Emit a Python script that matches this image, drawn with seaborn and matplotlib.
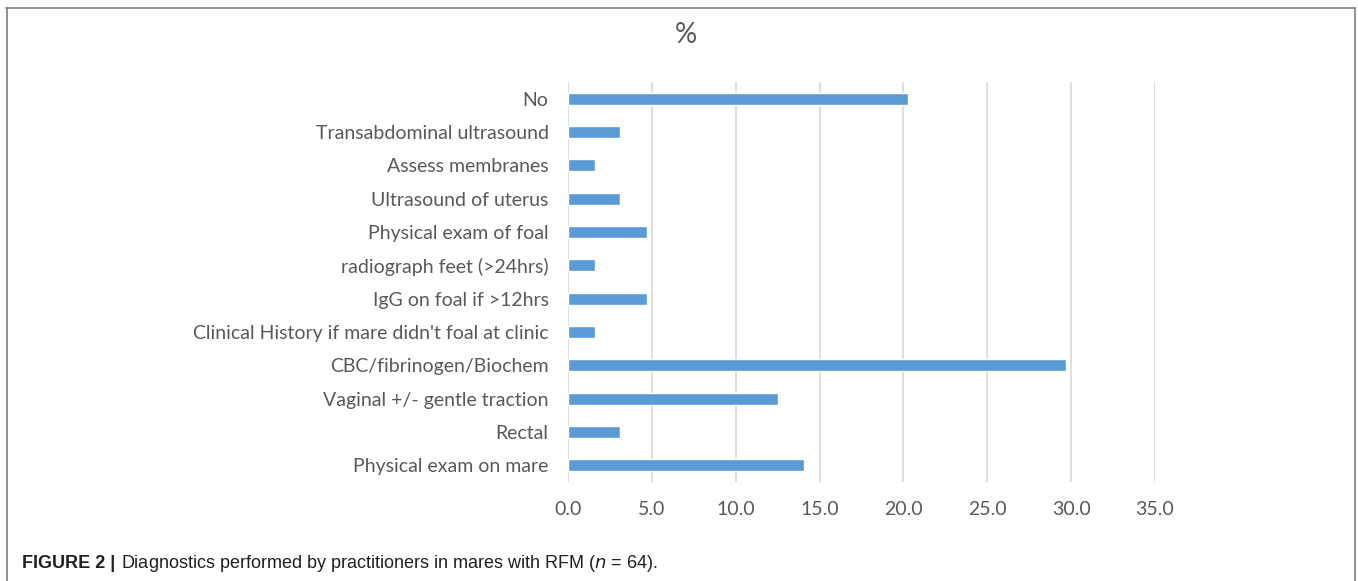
import pandas as pd
import seaborn as sns
import matplotlib.pyplot as plt
from matplotlib.lines import Line2D

# dados (percentual, n = 64)
categorias = [
    "No",
    "Transabdominal ultrasound",
    "Assess membranes",
    "Ultrasound of uterus",
    "Physical exam of foal",
    "radiograph feet (>24hrs)",
    "IgG on foal if >12hrs",
    "Clinical History if mare didn't foal at clinic",
    "CBC/fibrinogen/Biochem",
    "Vaginal +/- gentle traction",
    "Rectal",
    "Physical exam on mare",
]
percentuais = [20.3, 3.1, 1.6, 3.1, 4.7, 1.6, 4.7, 1.6, 29.7, 12.5, 3.1, 14.1]
ticks_x = [0, 5, 10, 15, 20, 25, 30, 35]

df = pd.DataFrame({"diag": categorias, "pct": percentuais})

sns.set_style("white")
plt.rcParams["font.family"] = ["Lato", "DejaVu Sans"]

cor_texto = "#595959"

fig = plt.figure(figsize=(13.58, 5.81), dpi=100)
ax = fig.add_axes([568 / 1358, 1 - 482 / 581, (1155 - 568) / 1358, 400 / 581])

sns.barplot(data=df, x="pct", y="diag", color="#5B9BD5", saturation=1,
            width=0.36, orient="h", ax=ax)

ax.set_xlim(0, 35)
ax.set_ylim(len(categorias) - 0.5, -0.5)
ax.set_xticks(ticks_x)
ax.set_xticklabels([f"{t:.1f}" for t in ticks_x], fontsize=14, color=cor_texto)
ax.tick_params(axis="y", labelsize=14, labelcolor=cor_texto, length=0, pad=14)
ax.tick_params(axis="x", length=0, pad=14)
ax.grid(axis="x", color="#D9D9D9", linewidth=1.2)
ax.set_axisbelow(True)
for s in ax.spines.values():
    s.set_visible(False)
ax.set_xlabel("")
ax.set_ylabel("")

# titulo "%"
fig.text(686 / 1358, 1 - 35 / 581, "%", fontsize=20, color=cor_texto,
         ha="center", va="center")

# moldura (sem linha inferior)
cor_borda = "#7F7F7F"
fig.add_artist(Line2D([6 / 1358, 1355 / 1358], [1 - 8 / 581, 1 - 8 / 581],
                      color=cor_borda, linewidth=1.2))
fig.add_artist(Line2D([7 / 1358, 7 / 1358], [0, 1 - 8 / 581],
                      color=cor_borda, linewidth=1.2))
fig.add_artist(Line2D([1355 / 1358, 1355 / 1358], [0, 1 - 8 / 581],
                      color=cor_borda, linewidth=1.2))

# legenda da figura
t1 = fig.text(22 / 1358, 1 - 563 / 581, "FIGURE 2 |", fontsize=13, fontweight="bold",
              family="Liberation Sans", color="#231F20", va="center")
fig.canvas.draw()
bb = t1.get_window_extent()
fig.text((bb.x1 + 6) / 1358, 1 - 563 / 581,
         "Diagnostics performed by practitioners in mares with RFM ($n$ = 64).",
         fontsize=13, family="Liberation Sans", color="#231F20", va="center")

fig.savefig("out.png", dpi=100)
